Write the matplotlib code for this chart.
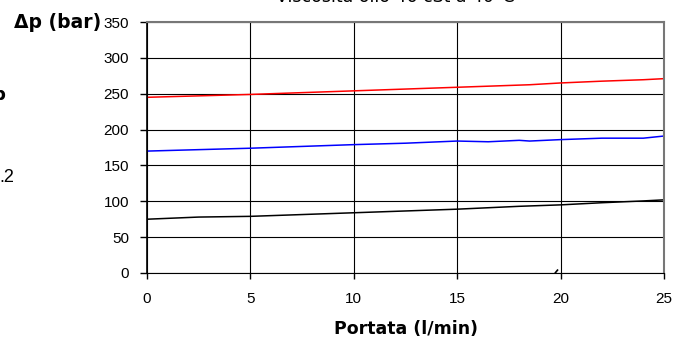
import numpy as np
import matplotlib
matplotlib.use('Agg')
import matplotlib.pyplot as plt

# Portata (l/min) vs delta p (bar)
portata = [0, 2.5, 5, 7.5, 10, 12.5, 15, 16.5, 18, 18.5, 20, 22, 24, 25]
dp_red = [245, 247, 249, 251.5, 254, 256.5, 259, 260.5, 262, 262.5, 265, 267.5, 269.5, 271]
dp_blue = [170, 172, 174, 176.5, 179, 181, 184, 183, 185, 184, 186, 188, 188, 191]
dp_black = [75, 78, 79, 81.5, 84, 86.5, 89, 91, 93, 93.5, 95, 98, 100.5, 102]

x_ticks = [0, 5, 10, 15, 20, 25]
y_ticks = [0, 50, 100, 150, 200, 250, 300, 350]

fig = plt.figure(figsize=(6.73, 3.38), dpi=100)
ax = fig.add_axes([147/673, 1 - 273/338, (664 - 147)/673, (273 - 22)/338])

ax.plot(portata, dp_red, color='red', lw=1.1)
ax.plot(portata, dp_blue, color='blue', lw=1.1)
ax.plot(portata, dp_black, color='black', lw=1.1)
ax.plot([19.75, 19.85], [0.5, 4], color='black', lw=1.2)  # stray mark

ax.set_xlim(0, 25)
ax.set_ylim(0, 350)
ax.set_xticks(x_ticks)
ax.set_yticks(y_ticks)
ax.grid(True, color='black', lw=0.8)
ax.set_axisbelow(True)

for side in ['top', 'right']:
    ax.spines[side].set_color('#777777')
    ax.spines[side].set_linewidth(1.5)
ax.spines['left'].set_linewidth(1.2)
ax.spines['bottom'].set_linewidth(0.8)

ax.tick_params(axis='both', labelsize=11, direction='out', length=5, width=1)
ax.tick_params(axis='y', pad=8)
ax.tick_params(axis='x', length=4, pad=10)
for lab in ax.get_xticklabels() + ax.get_yticklabels():
    lab.set_fontfamily('Liberation Sans')

ax.set_xlabel('Portata (l/min)', fontsize=12.5, fontweight='bold', labelpad=10)

fig.text(101/673, 1 - 22/338, 'Δp (bar)', fontsize=13.5, fontweight='bold', ha='right', va='center')
fig.text(395/673, 1 - 2/338, 'Viscosità olio 46 cSt a 40°C', fontsize=12.5, ha='center', va='baseline')

# clipped fragments at the left border
fig.text(-7/673, 1 - 95/338, 'p', fontsize=13, fontweight='bold', ha='left', va='center')
fig.text(-1/673, 1 - 177/338, '.2', fontsize=13, ha='left', va='center', family='Liberation Sans')

fig.savefig('out.png', dpi=100)
